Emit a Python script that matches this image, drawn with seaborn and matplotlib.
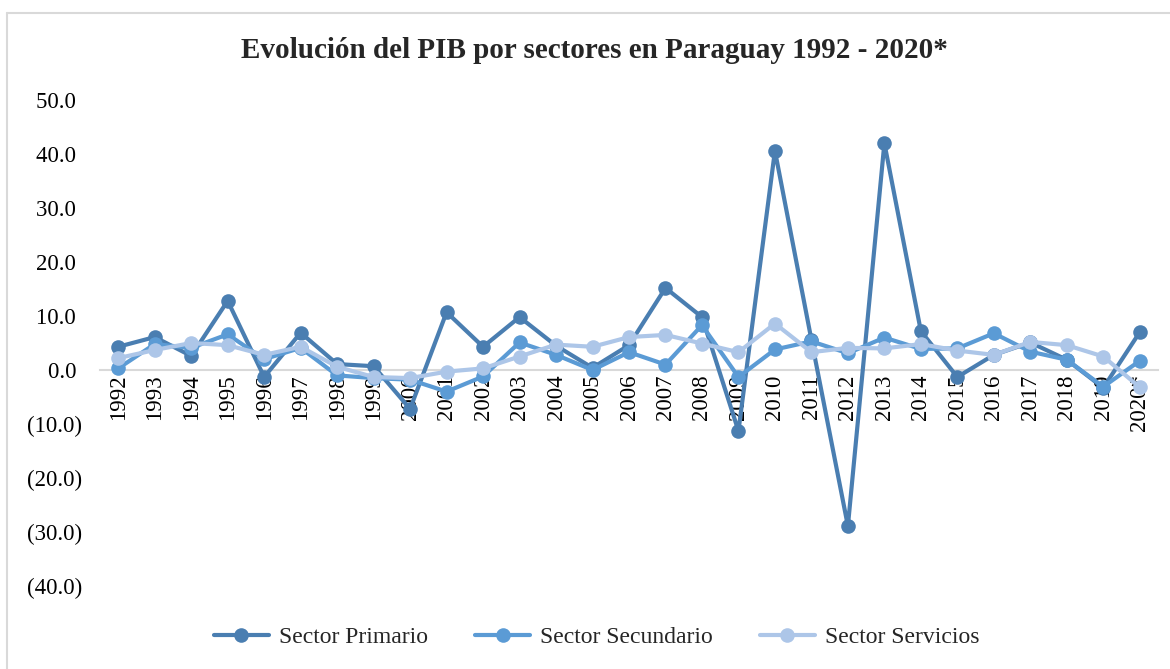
import numpy as np
import pandas as pd
import matplotlib
matplotlib.use("Agg")
import matplotlib.pyplot as plt
import seaborn as sns
from matplotlib.lines import Line2D
from matplotlib.ticker import FuncFormatter

years = ["1992", "1993", "1994", "1995", "1996", "1997", "1998", "1999", "2000",
         "2001", "2002", "2003", "2004", "2005", "2006", "2007", "2008", "2009",
         "2010", "2011", "2012", "2013", "2014", "2015", "2016", "2017", "2018",
         "2019", "2020*"]

primario = [4.3, 6.1, 2.6, 12.8, -1.3, 6.9, 1.1, 0.7, -7.2, 10.7, 4.3, 9.8, 4.5,
            0.4, 4.6, 15.2, 9.8, -11.3, 40.6, 5.6, -28.9, 42.0, 7.2, -1.3, 2.8,
            5.1, 1.9, -3.3, 7.0]
secundario = [0.3, 4.8, 4.1, 6.6, 2.0, 4.1, -1.0, -1.5, -1.8, -4.0, -1.2, 5.1, 2.8,
              0.0, 3.3, 1.0, 8.3, -1.3, 3.8, 5.3, 3.1, 6.0, 3.9, 4.0, 6.8, 3.4,
              1.9, -3.1, 1.7]
servicios = [2.2, 3.7, 5.0, 4.6, 2.8, 4.3, 0.6, -1.3, -1.5, -0.3, 0.3, 2.5, 4.7,
             4.3, 6.1, 6.5, 4.9, 3.3, 8.6, 3.3, 4.1, 4.0, 4.8, 3.6, 2.8, 5.2,
             4.6, 2.5, -3.2]

series_names = ["Sector Primario", "Sector Secundario", "Sector Servicios"]
colors = ["#4A7EB1", "#5B9BD5", "#ADC6E8"]
y_ticks = [-40, -30, -20, -10, 0, 10, 20, 30, 40, 50]
title = "Evolución del PIB por sectores en Paraguay 1992 - 2020*"

df = pd.DataFrame({
    "year": years * 3,
    "pos": list(range(len(years))) * 3,
    "value": primario + secundario + servicios,
    "sector": [series_names[0]] * len(years) + [series_names[1]] * len(years)
              + [series_names[2]] * len(years),
})

sns.set_theme(style="white")
plt.rcParams["font.family"] = ["Liberation Serif", "DejaVu Serif"]

fig = plt.figure(figsize=(11.70, 6.69), dpi=100)
ax = fig.add_axes([100 / 1170, 1 - 586 / 669, 1058 / 1170, 486 / 669])

sns.lineplot(data=df, x="pos", y="value", hue="sector", hue_order=series_names,
             palette=colors, marker="o", markersize=10.5, markeredgewidth=0,
             linewidth=3, sort=False, legend=False, ax=ax)

ax.set_xlim(-0.5, len(years) - 0.5)
ax.set_ylim(-40, 50)
ax.set_yticks(y_ticks)
ax.yaxis.set_major_formatter(FuncFormatter(
    lambda v, p: f"({abs(v):.1f})" if v < 0 else f"{v:.1f} "))
ax.set_xticks(range(len(years)))
ax.set_xticklabels(years)
ax.set_axisbelow(True)

for s in ["top", "right", "left"]:
    ax.spines[s].set_visible(False)
ax.spines["bottom"].set_position(("data", 0))
ax.spines["bottom"].set_color("#D9D9D9")
ax.spines["bottom"].set_linewidth(1.5)
ax.spines["bottom"].set_zorder(0.5)
ax.tick_params(axis="x", length=0, pad=3, labelsize=16.5, colors="black",
               labelrotation=90)
ax.tick_params(axis="y", length=0, pad=13, labelsize=16.5, colors="black")
for lab in ax.get_xticklabels():
    lab.set_va("top")
    lab.set_ha("center")
ax.set_xlabel("")
ax.set_ylabel("")
ax.grid(False)

fig.text(594 / 1170, 1 - 50 / 669, title, ha="center", va="center",
         fontsize=21, fontweight="bold")

handles = [Line2D([0], [0], color=c, lw=3, marker="o", markersize=10.5,
                  markeredgewidth=0) for c in colors]
fig.legend(handles, series_names, loc="center", bbox_to_anchor=(597 / 1170, 1 - 637 / 669),
           ncol=3, frameon=False, fontsize=17, handlelength=2.3, columnspacing=2.0,
           handletextpad=0.45)

# chart-area border (left and top visible)
fig.add_artist(Line2D([7 / 1170, 7 / 1170], [0, 1 - 13 / 669], color="#D9D9D9", lw=1.5,
                      transform=fig.transFigure))
fig.add_artist(Line2D([7 / 1170, 1], [1 - 13 / 669, 1 - 13 / 669], color="#D9D9D9", lw=1.5,
                      transform=fig.transFigure))

fig.savefig("out.png", dpi=100, facecolor="white")
